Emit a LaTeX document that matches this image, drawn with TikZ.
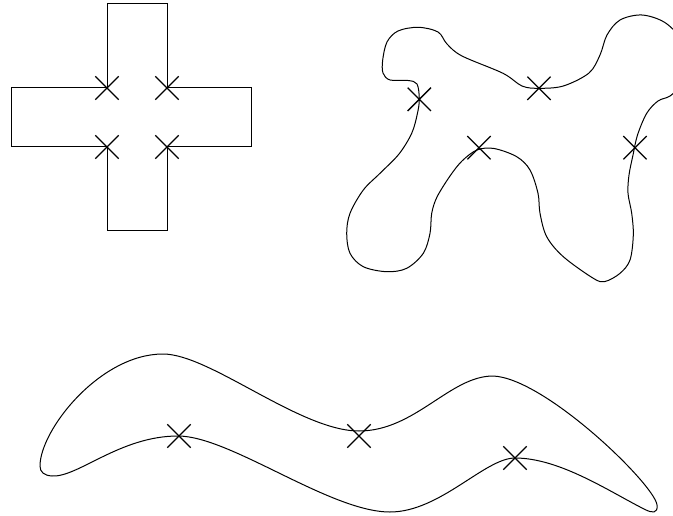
\documentclass[tikz,border=0pt]{standalone}
\usetikzlibrary{shapes.misc}
\tikzset{
  xmark/.style={draw, cross out, minimum size=16.5pt, inner sep=0pt, line width=0.95pt},
  outline/.style={draw, line width=0.75pt},
}
\begin{document}
\begin{tikzpicture}[x=0.75pt,y=-0.75pt]
\useasboundingbox (0,0) rectangle (673,516);
\begin{scope}
\clip (0,0) rectangle (673,516);
% plus shape
\draw[outline] (107,4) -- (167,4) -- (167,88) -- (251,88) -- (251,147) -- (167,147) -- (167,231) -- (107,231) -- (107,147) -- (11,147) -- (11,88) -- (107,88) -- cycle;
% blob
\draw[outline] plot[smooth cycle, tension=0.55] coordinates {
 (419.3,99.3) (417,84) (408,80.5) (390,80) (383,73) (382.7,60) (387,42) (398,31) (418.3,27.3) (438,32) (447,44) (462,56)
 (503,73.3) (522,86) (539,88.3) (563.3,86) (589,73) (600,55) (607,35) (620,20) (641.7,15) (664,22) (680,38) (687,60) (680,85) (670,96)
 (658,101) (646.7,113.3) (637.5,135) (633,155) (629,175) (628,193.3) (631.7,213.3) (633.3,235) (630,260) (620,273.3) (605,281.5) (593.3,278.3)
 (563.3,256.7) (546.7,236.7) (540,213.3) (538,193.3) (530,170) (516.7,156.7) (494,148.5) (477,150) (462,161) (450,176) (437,197) (431.7,213.3)
 (430,233.3) (423.3,253.3) (406.7,268.3) (386.7,271.7) (363.3,266.7) (350,253.3) (346.7,233.3) (350,213.3) (363.3,190) (380,173.3)
 (399,154) (411.7,133.3) (417.3,114)
};
% worm shape
\draw[outline]
 (40,466) .. controls (40,430) and (100,354) .. (163,354)
 .. controls (210,354) and (300,431) .. (359,431)
 .. controls (415,431) and (450,376) .. (493,376)
 .. controls (545,378) and (655,485) .. (657,505)
 .. controls (658,514) and (652,513) .. (645,509.5)
 .. controls (610,492) and (560,458) .. (515,458)
 .. controls (485,458) and (440,512) .. (390,512)
 .. controls (330,512) and (230,436) .. (178,436)
 .. controls (120,436) and (78,477.5) .. (52,476)
 .. controls (44,475.5) and (40,472) .. cycle;
\end{scope}
% marks
\node[xmark] (p1) at (107,88) {};
\node[xmark] (p2) at (167,88) {};
\node[xmark] (p3) at (107,147) {};
\node[xmark] (p4) at (167,147) {};
\node[xmark] (b1) at (419.3,99.3) {};
\node[xmark] (b2) at (539,88.3) {};
\node[xmark] (b3) at (479,147.7) {};
\node[xmark] (b4) at (635,147.7) {};
\node[xmark] (w1) at (179,436) {};
\node[xmark] (w2) at (359,436) {};
\node[xmark] (w3) at (515,458) {};
\end{tikzpicture}
\end{document}
